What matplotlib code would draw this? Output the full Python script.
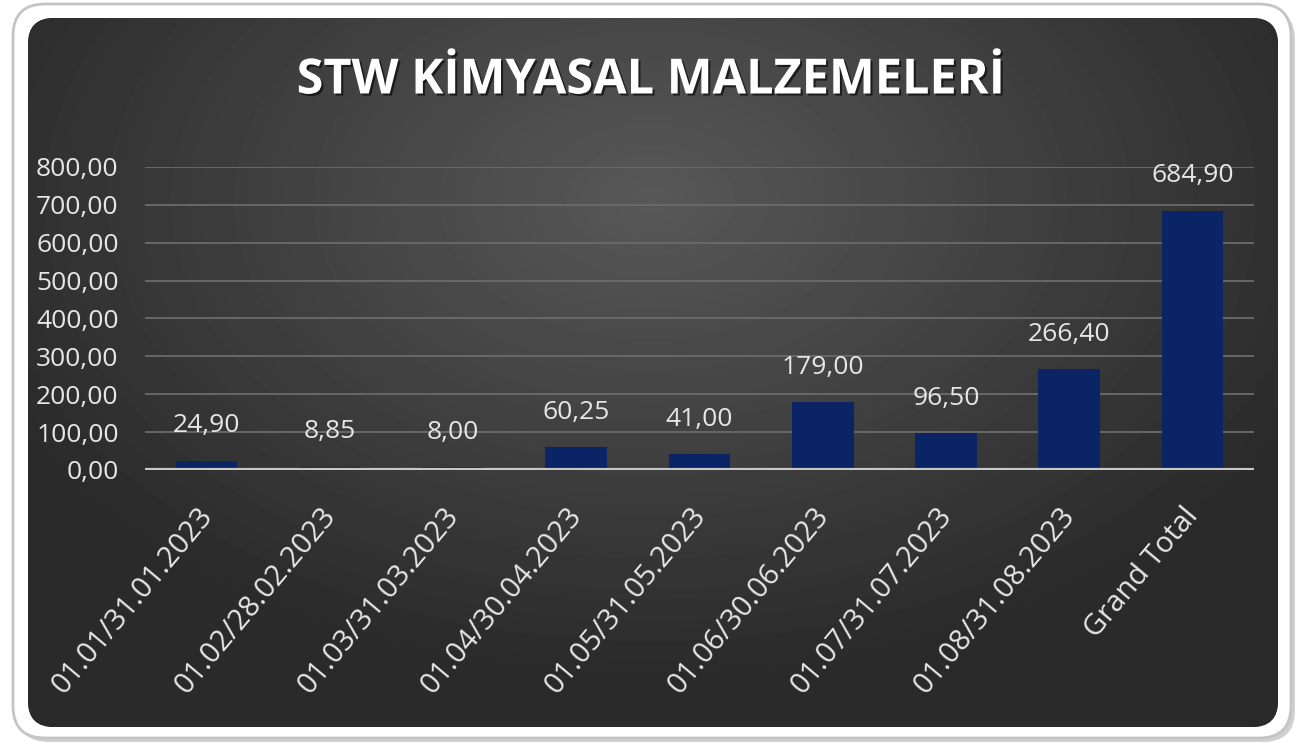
import numpy as np
import matplotlib
matplotlib.use("Agg")
import matplotlib.pyplot as plt
from matplotlib.patches import FancyBboxPatch
from matplotlib.transforms import ScaledTranslation
import matplotlib.patheffects as pe

# data
categories = ["01.01/31.01.2023", "01.02/28.02.2023", "01.03/31.03.2023",
              "01.04/30.04.2023", "01.05/31.05.2023", "01.06/30.06.2023",
              "01.07/31.07.2023", "01.08/31.08.2023", "Grand Total"]
values = [24.90, 8.85, 8.00, 60.25, 41.00, 179.00, 96.50, 266.40, 684.90]
yticks = [0, 100, 200, 300, 400, 500, 600, 700, 800]
title = "STW KİMYASAL MALZEMELERİ"

W, H = 1299, 743
fig = plt.figure(figsize=(W / 100, H / 100), dpi=100)
fig.patch.set_facecolor("white")

# background frame, in pixel coords
bg = fig.add_axes([0, 0, 1, 1])
bg.set_xlim(0, W)
bg.set_ylim(H, 0)
bg.axis("off")

shadow = FancyBboxPatch((17, 8), 1278, 734, boxstyle="round,pad=0,rounding_size=32",
                        facecolor="#d0d0d0", edgecolor="none")
bg.add_patch(shadow)
outer = FancyBboxPatch((13, 4), 1278, 734, boxstyle="round,pad=0,rounding_size=32",
                       facecolor="white", edgecolor="#c4c4c4", lw=2)
bg.add_patch(outer)
inner = FancyBboxPatch((28, 18), 1250, 709, boxstyle="round,pad=0,rounding_size=26",
                       facecolor="#2e2e2e", edgecolor="none")
bg.add_patch(inner)

# radial gradient inside the dark panel
yy, xx = np.mgrid[0:H, 0:W]
r = np.sqrt(((xx - 650) / 850.0) ** 2 + ((yy - 200) / 560.0) ** 2)
shade = np.clip(0.345 - 0.21 * r, 0.165, 0.345)
img = bg.imshow(shade, cmap="gray", vmin=0, vmax=1, extent=(0, W, H, 0),
                interpolation="bilinear", zorder=1)
img.set_clip_path(inner)

bg.text(651, 81, title, color="white", fontsize=35, fontweight="bold",
        family="Open Sans", ha="center", va="center", zorder=3,
        path_effects=[pe.withSimplePatchShadow(offset=(1.5, -1.5), shadow_rgbFace="black", alpha=0.6)])

# main chart
ax = fig.add_axes([145 / W, 1 - 470 / H, 1109 / W, 303 / H])
ax.set_facecolor("none")
x = np.arange(len(categories))
ax.bar(x, values, width=0.5, color="#0b2466", zorder=3)
ax.set_xlim(-0.5, len(categories) - 0.5)
ax.set_ylim(0, 800)
ax.set_yticks(yticks)
ax.set_yticklabels([f"{v:.2f}".replace(".", ",") for v in yticks])
ax.yaxis.grid(True, color="#6b6b6b", lw=1.3)
ax.set_axisbelow(True)
ax.axhline(0, color="#c8c8c8", lw=3, zorder=4)
for s in ax.spines.values():
    s.set_visible(False)
ax.tick_params(axis="y", length=0, colors="#e6e6e6", labelsize=19, pad=19)
ax.tick_params(axis="x", length=0, colors="#e6e6e6", labelsize=21, pad=23)
for lab in ax.get_yticklabels():
    lab.set_family("Open Sans")

ax.set_xticks(x)
ax.set_xticklabels(categories, rotation=50, ha="right", va="top",
                   rotation_mode="anchor", family="Open Sans", fontsize=21)
shift = ScaledTranslation(-10 / 100, 0, fig.dpi_scale_trans)
for lab in ax.get_xticklabels():
    lab.set_color("#e6e6e6")
    lab.set_transform(lab.get_transform() + shift)

for xi, v in zip(x, values):
    ax.annotate(f"{v:.2f}".replace(".", ","), (xi, v), xytext=(0, 25),
                textcoords="offset points", ha="center", va="center",
                color="#e6e6e6", fontsize=19, family="Open Sans")

fig.savefig("out.png", dpi=100)
